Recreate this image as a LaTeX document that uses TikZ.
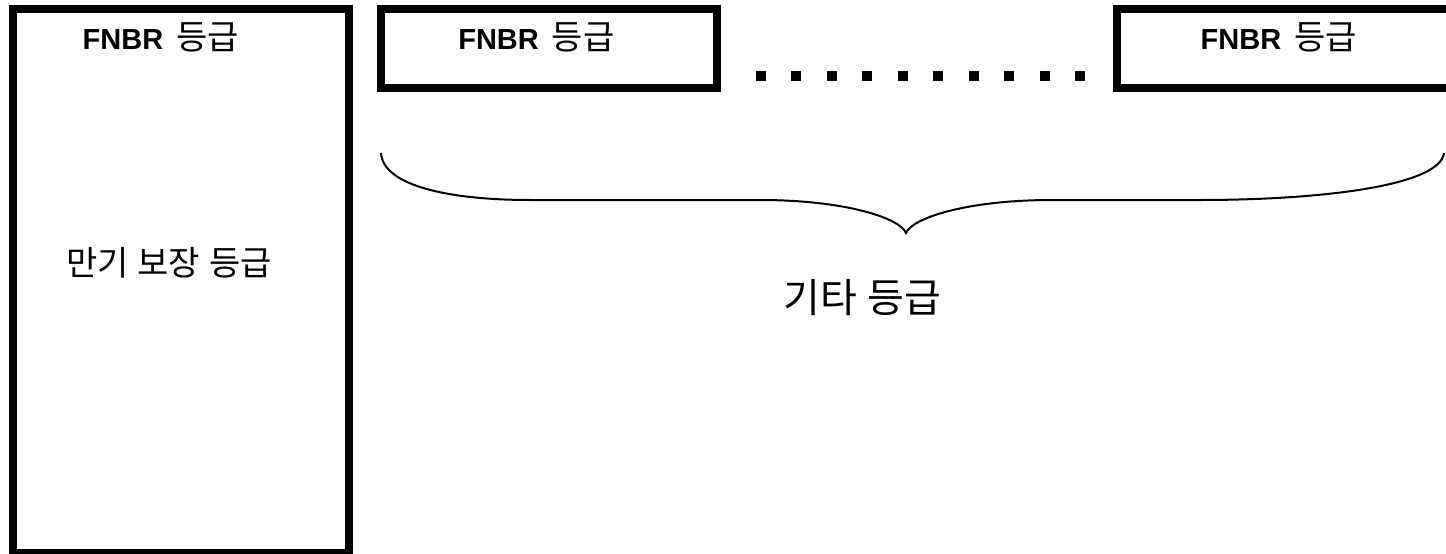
\documentclass[tikz,border=0pt]{standalone}
\usepackage{fontspec}
\setmainfont{Liberation Sans}
\newfontfamily\kr[WordSpace=1.2]{Noto Sans CJK KR}
\newcommand\fnbrlabel{{\fontsize{29}{34}\selectfont\bfseries FNBR\ \hspace{5pt}{\kr\mdseries\fontsize{34}{38}\selectfont 등급}}}
\begin{document}
\begin{tikzpicture}[x=1pt,y=-1pt,
  gbox/.style={draw=black, line width=8pt, fill=none, inner sep=0pt, outer sep=0pt},
  lbl/.style={inner sep=0pt, outer sep=0pt, anchor=base west},
  dotsq/.style={fill=black, minimum size=10pt, inner sep=0pt, outer sep=0pt},
  brace/.style={draw=black, line width=2pt}]
\useasboundingbox (0,0) rectangle (1446,554);
\clip (0,0) rectangle (1446,554);
% boxes
\node[gbox, minimum width=335.7pt, minimum height=543.7pt] (maturity) at (180.85,280.85) {};
\node[gbox, minimum width=336pt, minimum height=79.3pt] (fnbrA) at (549,48.65) {};
\node[gbox, minimum width=360pt, minimum height=79.3pt, anchor=west] (fnbrB) at (1117,48.65) {};
% labels
\node[lbl] (l1) at (82.7,49.3) {\fnbrlabel};
\node[lbl] (l2) at (458.3,49.3) {\fnbrlabel};
\node[lbl] (l3) at (1200.7,49.3) {\fnbrlabel};
\node[inner sep=0pt] (mat) at (169,263) {\kr\fontsize{34}{38}\selectfont 만기 보장 등급};
\node[inner sep=0pt] (other) at (862.5,298) {\kr\fontsize{40}{44}\selectfont 기타 등급};
% dots
\foreach \i in {0,...,9} {
  \node[dotsq] (d\i) at ({761+35.44*\i},75.7) {};
}
% brace
\coordinate (bL) at (381,153);
\coordinate (bT) at (906,233);
\coordinate (bR) at (1444,153);
\draw[brace] (bL) .. controls (383,186) and (450,200) .. (530,200)
  -- (760,200) .. controls (845,200) and (900,218) .. (bT)
  .. controls (912,218) and (967,200) .. (1052,200)
  -- (1200,200) .. controls (1320,200) and (1440,186) .. (bR);
\end{tikzpicture}
\end{document}
